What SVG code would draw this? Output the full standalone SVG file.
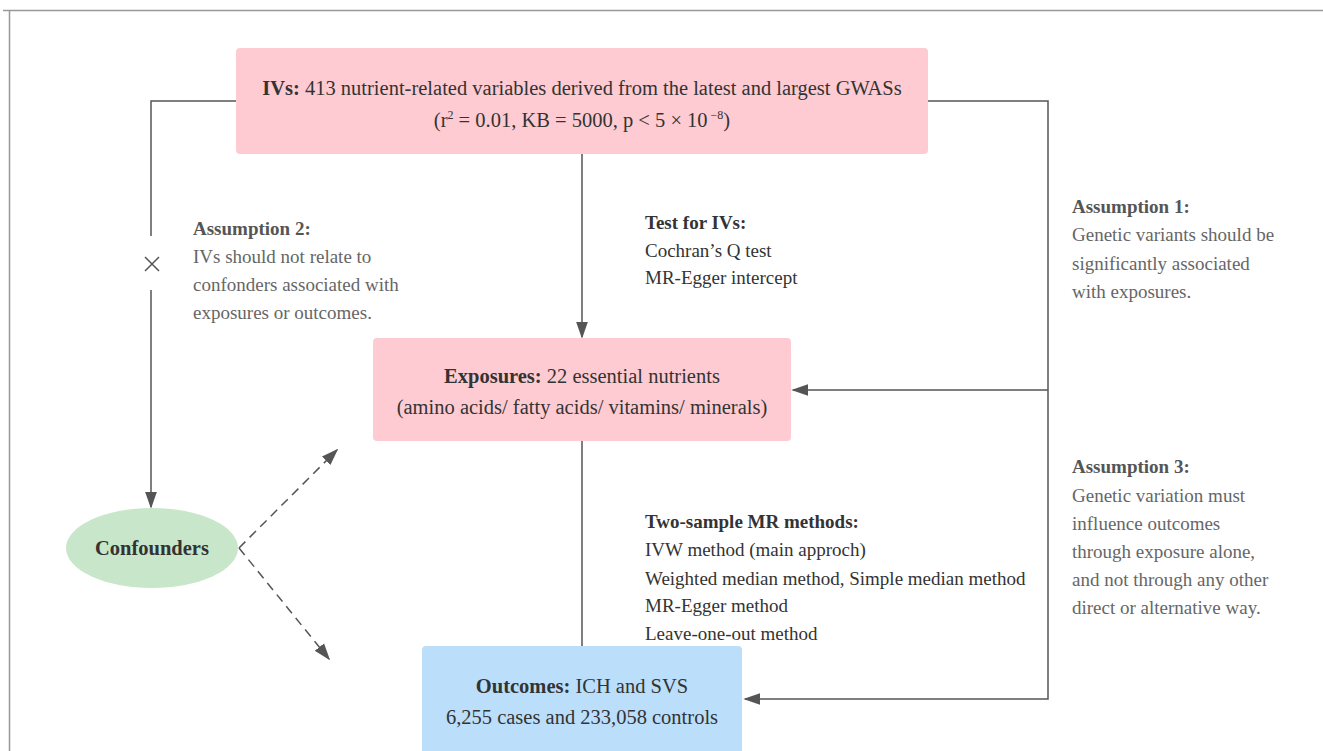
<svg xmlns="http://www.w3.org/2000/svg" width="1323" height="751" viewBox="0 0 1323 751">
<style>
text { font-family: "Liberation Serif", "Times New Roman", serif; }
.main { font-size: 20.5px; fill: #333; text-anchor: middle; }
.b { font-weight: bold; }
.note { font-size: 19px; fill: #333; }
.assume { font-size: 19px; fill: #666; }
.assume .b { fill: #555; }
.ln { stroke: #555; stroke-width: 1.5; fill: none; }
.dash { stroke: #555; stroke-width: 1.5; fill: none; stroke-dasharray: 9 6; }
.pink { fill: #fecbd2; }
</style>
<defs>
<marker id="arrL" viewBox="0 0 10 10" refX="9" refY="5" markerWidth="17" markerHeight="17" markerUnits="userSpaceOnUse" orient="auto">
<path d="M0,1.5 L10,5 L0,8.5 z" fill="#555"/>
</marker>
</defs>
<rect width="1323" height="751" fill="#fff"/>
<g id="frame">
<line x1="3" y1="10.5" x2="1323" y2="10.5" stroke="#999" stroke-width="1.5"/>
<line x1="9.5" y1="10" x2="9.5" y2="751" stroke="#999" stroke-width="1.5"/>
</g>
<g id="connectors">
<polyline class="ln" points="236,101 151,101 151,236"/>
<path class="ln" d="M145,257 L159,271 M159,257 L145,271"/>
<line class="ln" x1="151" y1="290" x2="151" y2="507" marker-end="url(#arrL)"/>
<line class="ln" x1="582" y1="154" x2="582" y2="337" marker-end="url(#arrL)"/>
<polyline class="ln" points="928,101 1048,101 1048,699 745,699" marker-end="url(#arrL)"/>
<line class="ln" x1="1048" y1="390" x2="793" y2="390" marker-end="url(#arrL)"/>
<line class="ln" x1="582" y1="441" x2="582" y2="646"/>
<line class="dash" x1="239" y1="548" x2="337" y2="450" marker-end="url(#arrL)"/>
<line class="dash" x1="239" y1="548" x2="329" y2="659" marker-end="url(#arrL)"/>
</g>
<g id="ivs">
<rect class="pink" x="236" y="48" width="692" height="106" rx="4"/>
<text class="main" x="582" y="95"><tspan class="b">IVs:</tspan> 413 nutrient-related variables derived from the latest and largest GWASs</text>
<text class="main" x="582" y="127">(r<tspan dy="-8" font-size="12">2</tspan><tspan dy="8"> = 0.01, KB = 5000, p &lt; 5 × 10</tspan><tspan dy="-8" font-size="12"> −8</tspan><tspan dy="8">)</tspan></text>
</g>
<g id="exposures">
<rect class="pink" x="373" y="338" width="418" height="103" rx="4"/>
<text class="main" x="582" y="383"><tspan class="b">Exposures:</tspan> 22 essential nutrients</text>
<text class="main" x="582" y="414">(amino acids/ fatty acids/ vitamins/ minerals)</text>
</g>
<g id="outcomes">
<rect x="422" y="646" width="320" height="115" rx="4" fill="#bbdefb"/>
<text class="main" x="582" y="693"><tspan class="b">Outcomes:</tspan> ICH and SVS</text>
<text class="main" x="582" y="724">6,255 cases and 233,058 controls</text>
</g>
<g id="confounders">
<ellipse cx="152" cy="548" rx="86" ry="40" fill="#c8e6c9"/>
<text class="main" x="152" y="555" font-size="20" style="font-weight:bold">Confounders</text>
</g>
<g id="test-ivs">
<text class="note" x="645" y="229"><tspan class="b">Test for IVs:</tspan></text>
<text class="note" x="645" y="257">Cochran’s Q test</text>
<text class="note" x="645" y="284">MR-Egger intercept</text>
</g>
<g id="mr-methods">
<text class="note" x="645" y="528"><tspan class="b">Two-sample MR methods:</tspan></text>
<text class="note" x="645" y="556">IVW method (main approch)</text>
<text class="note" x="645" y="585">Weighted median method, Simple median method</text>
<text class="note" x="645" y="612">MR-Egger method</text>
<text class="note" x="645" y="640">Leave-one-out method</text>
</g>
<g id="assumption2" class="assume">
<text x="193" y="235"><tspan class="b">Assumption 2:</tspan></text>
<text x="193" y="263">IVs should not relate to</text>
<text x="193" y="291">confonders associated with</text>
<text x="193" y="319">exposures or outcomes.</text>
</g>
<g id="assumption1" class="assume">
<text x="1072" y="213"><tspan class="b">Assumption 1:</tspan></text>
<text x="1072" y="241">Genetic variants should be</text>
<text x="1072" y="270">significantly associated</text>
<text x="1072" y="298">with exposures.</text>
</g>
<g id="assumption3" class="assume">
<text x="1072" y="473"><tspan class="b">Assumption 3:</tspan></text>
<text x="1072" y="502">Genetic variation must</text>
<text x="1072" y="530">influence outcomes</text>
<text x="1072" y="558">through exposure alone,</text>
<text x="1072" y="586">and not through any other</text>
<text x="1072" y="614">direct or alternative way.</text>
</g>
</svg>
